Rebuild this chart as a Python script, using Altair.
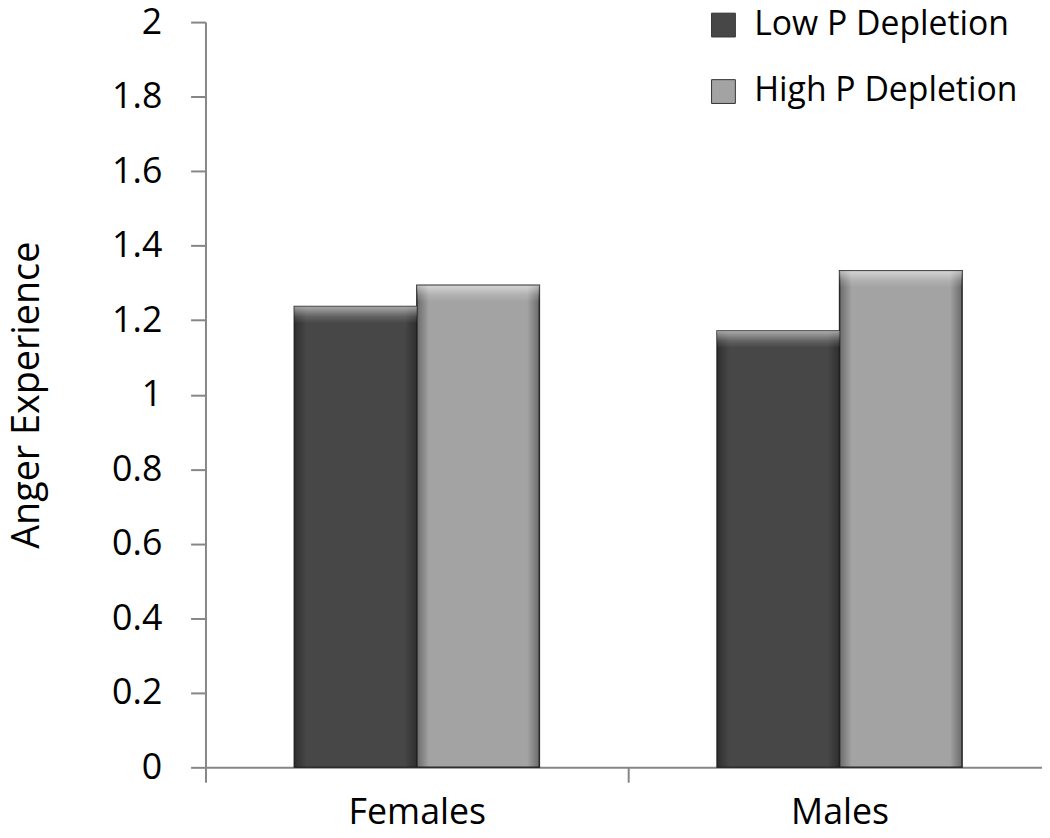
import altair as alt
import pandas as pd

categories = ["Females", "Males"]
series = ["Low P Depletion", "High P Depletion"]
low_values = [1.237, 1.171]
high_values = [1.294, 1.333]
y_ticks = [0, 0.2, 0.4, 0.6, 0.8, 1.0, 1.2, 1.4, 1.6, 1.8, 2.0]

rows = []
for i, c in enumerate(categories):
    rows.append({"group": c, "series": series[0], "value": low_values[i]})
    rows.append({"group": c, "series": series[1], "value": high_values[i]})
df = pd.DataFrame(rows)

FONT = "Open Sans"
AXIS_GRAY = "#868686"

x_enc = alt.X(
    "group:N",
    sort=categories,
    scale=alt.Scale(domain=categories, range=[0, 852], paddingInner=0, paddingOuter=0),
    axis=alt.Axis(
        title=None, labelAngle=0, tickSize=15, tickBand="extent", labelPadding=14,
        labelFontSize=36, labelFont=FONT, labelColor="black",
        domainColor=AXIS_GRAY, tickColor=AXIS_GRAY, domainWidth=2, tickWidth=2, grid=False,
    ),
)
xoff_enc = alt.XOffset("series:N", sort=series,
                       scale=alt.Scale(domain=series, paddingInner=0, paddingOuter=0.725))
y_enc = alt.Y(
    "value:Q",
    scale=alt.Scale(domain=[0, 2], nice=False, zero=True),
    axis=alt.Axis(
        values=y_ticks, format="~g", tickSize=15, labelPadding=29,
        labelFontSize=36, labelFont=FONT, labelColor="black",
        domainColor=AXIS_GRAY, tickColor=AXIS_GRAY, domainWidth=2, tickWidth=2, grid=False,
        title="Anger Experience", titleFontSize=38, titleFont=FONT, titleFontWeight="normal",
        titleColor="black", titlePadding=66,
    ),
)

base = alt.Chart(df).encode(x=x_enc, xOffset=xoff_enc, y=y_enc)

bars = base.mark_bar(stroke="#2e2e2e", strokeWidth=1.5).encode(
    color=alt.Color(
        "series:N", sort=series,
        scale=alt.Scale(domain=series, range=["#474747", "#a3a3a3"]),
        legend=alt.Legend(
            title=None, orient="none", legendX=505, legendY=-14, direction="vertical",
            symbolType="square", symbolSize=576, symbolStrokeColor="#333333",
            symbolStrokeWidth=1, labelFontSize=34, labelFont=FONT, labelColor="black",
            rowPadding=33, labelOffset=14, padding=0, labelLimit=0,
        ),
    )
)

side_shade = base.mark_bar(
    color=alt.LinearGradient(
        gradient="linear", x1=0, x2=1, y1=0, y2=0,
        stops=[
            alt.GradientStop(color="rgba(0,0,0,0.35)", offset=0),
            alt.GradientStop(color="rgba(0,0,0,0)", offset=0.1),
            alt.GradientStop(color="rgba(0,0,0,0)", offset=0.9),
            alt.GradientStop(color="rgba(0,0,0,0.35)", offset=1),
        ],
    )
)

top_shine = base.transform_calculate(top2="datum.value - 0.045").mark_bar(
    color=alt.LinearGradient(
        gradient="linear", x1=0, x2=0, y1=0, y2=1,
        stops=[
            alt.GradientStop(color="rgba(255,255,255,0.55)", offset=0),
            alt.GradientStop(color="rgba(255,255,255,0.15)", offset=0.6),
            alt.GradientStop(color="rgba(255,255,255,0)", offset=1),
        ],
    )
).encode(y2="top2:Q")

chart = alt.layer(bars, side_shade, top_shine).properties(
    width=843, height=751,
    autosize=alt.AutoSizeParams(type="none"),
    padding={"left": 199, "top": 11, "right": 0, "bottom": 66},
    background="white",
).configure_view(stroke=None)

chart.save("out.html", embed_options={"renderer": "svg", "actions": False})
